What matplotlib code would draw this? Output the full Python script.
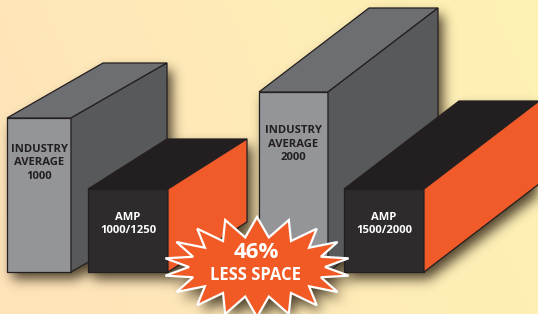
import numpy as np
import matplotlib
matplotlib.use("Agg")
import matplotlib.pyplot as plt
from matplotlib.patches import Polygon
from matplotlib.path import Path

# chart data
labels = ["INDUSTRY\nAVERAGE\n1000", "AMP\n1000/1250", "INDUSTRY\nAVERAGE\n2000", "AMP\n1500/2000"]
heights = [154, 83, 180, 83]
kinds = ["industry", "amp", "industry", "amp"]
badge_value = "46%"
badge_text = "LESS SPACE"

W, H = 538, 314
FONT = "Open Sans"

# layout of each box: front-left x, front width, depth offset (dx, dy), base y
box_x = [7, 88, 259, 344]
box_w = [64, 80, 69, 80]
box_d = [(96, 55), (79, 50), (110, 84), (115, 88)]
base_y = 272

colors = {
    "industry": dict(front="#939598", top="#6d6e71", side="#58595b", text="#231f20"),
    "amp": dict(front="#2d2b2c", top="#231f20", side="#f15a29", text="white"),
}


def box_faces(i):
    x0, w, h = box_x[i], box_w[i], heights[i]
    dx, dy = box_d[i]
    yt = base_y - h
    front = [(x0, base_y), (x0 + w, base_y), (x0 + w, yt), (x0, yt)]
    top = [(x0, yt), (x0 + w, yt), (x0 + w + dx, yt - dy), (x0 + dx, yt - dy)]
    side = [(x0 + w, base_y), (x0 + w + dx, base_y - dy), (x0 + w + dx, yt - dy), (x0 + w, yt)]
    return front, top, side


def star_points(cx, cy, n, rx_out, ry_out, rx_in, ry_in):
    ang = np.linspace(0, 2 * np.pi, 2 * n, endpoint=False) + np.pi / 2
    rx = np.where(np.arange(2 * n) % 2 == 0, rx_out, rx_in)
    ry = np.where(np.arange(2 * n) % 2 == 0, ry_out, ry_in)
    return np.column_stack([cx + rx * np.cos(ang), cy - ry * np.sin(ang)])


def blur(a, sigma):
    r = int(3 * sigma)
    k = np.exp(-0.5 * (np.arange(-r, r + 1) / sigma) ** 2)
    k /= k.sum()
    a = np.apply_along_axis(lambda m: np.convolve(m, k, mode="same"), 0, a)
    a = np.apply_along_axis(lambda m: np.convolve(m, k, mode="same"), 1, a)
    return a


fig = plt.figure(figsize=(W / 100, H / 100), dpi=100)
ax = fig.add_axes([0, 0, 1, 1])
ax.set_xlim(0, W)
ax.set_ylim(H, 0)
ax.axis("off")

# background gradient
gx = np.linspace(0, 1, W)[None, :]
gy = np.linspace(0, 1, H)[:, None]
t = np.clip(0.8 * gx + 0.2 * (1 - gy), 0, 1)
c0 = np.array([254, 227, 186]) / 255
c1 = np.array([254, 242, 180]) / 255
bg = c0[None, None, :] * (1 - t[..., None]) + c1[None, None, :] * t[..., None]
ax.imshow(bg, extent=[0, W, H, 0], zorder=0, interpolation="bilinear")

# star badge geometry
star = star_points(257, 267, 18, 93, 50, 68, 30)

# soft drop shadow from all shapes
yy, xx = np.mgrid[0:H, 0:W]
pts = np.column_stack([xx.ravel() + 0.5, yy.ravel() + 0.5])
mask = np.zeros(H * W)
off = np.array([5, 7])
for i in range(4):
    for face in box_faces(i):
        mask = np.maximum(mask, Path(np.array(face) + off).contains_points(pts))
mask = np.maximum(mask, Path(star + off).contains_points(pts))
mask = blur(mask.reshape(H, W).astype(float), 6)
shadow = np.zeros((H, W, 4))
shadow[..., :3] = np.array([60, 48, 30]) / 255
shadow[..., 3] = np.clip(mask * 0.9, 0, 1)
ax.imshow(shadow, extent=[0, W, H, 0], zorder=1, interpolation="bilinear")

# boxes
for i in [0, 1, 2, 3]:
    c = colors[kinds[i]]
    z = 2 + i
    front, top, side = box_faces(i)
    for face, fc in [(front, c["front"]), (top, c["top"]), (side, c["side"])]:
        ax.add_patch(Polygon(face, closed=True, facecolor=fc, edgecolor="#231f20",
                             lw=0.9, joinstyle="miter", zorder=z))
    h = heights[i]
    cy = base_y - h + (h * 0.29 if kinds[i] == "industry" else h * 0.42)
    ax.text(box_x[i] + box_w[i] / 2, cy, labels[i], ha="center", va="center",
            color=c["text"], fontsize=8.1, fontweight="bold", family=FONT,
            linespacing=1.3, zorder=z + 0.5)

# badge
ax.add_patch(Polygon(star, closed=True, facecolor="#f15a24", edgecolor="white",
                     lw=1.6, joinstyle="miter", zorder=10))
ax.text(256, 253, badge_value, ha="center", va="center", color="white",
        fontsize=16, fontweight="bold", family=FONT, zorder=11)
ax.text(255, 275, badge_text, ha="center", va="center", color="white",
        fontsize=12, fontweight="bold", family=FONT, zorder=11)

fig.savefig("out.png", dpi=100)
